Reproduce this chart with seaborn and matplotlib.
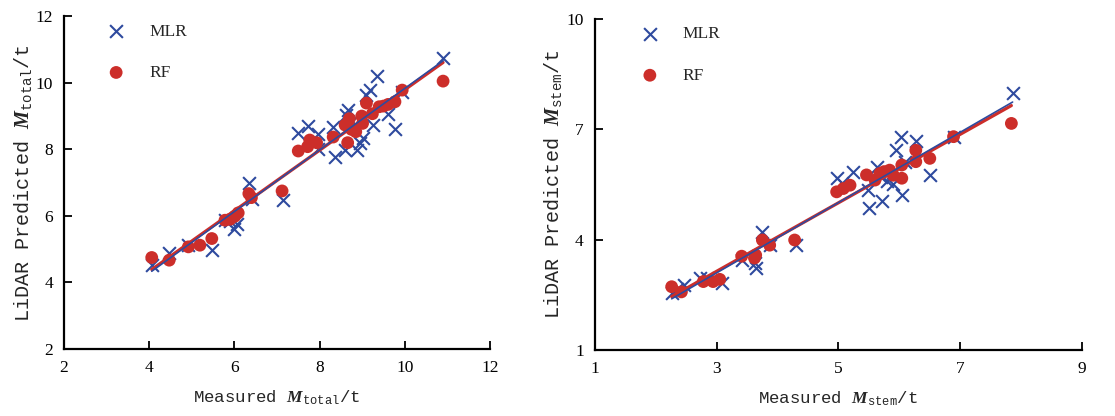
import matplotlib
matplotlib.use("Agg")
import matplotlib.pyplot as plt
import seaborn as sns
import numpy as np

sns.set_theme(style="white")
plt.rcParams['font.family'] = ['Liberation Serif', 'DejaVu Serif']
plt.rcParams['mathtext.fontset'] = 'custom'
plt.rcParams['mathtext.rm'] = 'Liberation Mono'
plt.rcParams['mathtext.it'] = 'Liberation Serif:italic:bold'
plt.rcParams['mathtext.bf'] = 'Liberation Serif:bold'

BLUE = "#2E4A9E"
RED = "#CC2E2A"

# ---- Left panel: M_total ----
total_mlr_x = [10.90, 9.36, 9.18, 9.08, 9.94, 9.61, 9.77, 9.26, 8.67, 8.62, 9.03, 8.95, 8.87,
               8.60, 8.36, 8.31, 7.72, 7.50, 7.97, 7.97, 6.34, 6.41, 7.13, 6.05, 6.00, 5.78,
               5.48, 4.92, 4.46, 4.06, 8.75, 5.90]
total_mlr_y = [10.75, 10.21, 9.78, 9.63, 9.73, 9.07, 8.62, 8.73, 9.18, 9.03, 8.33, 8.18, 7.98,
               7.98, 7.78, 8.66, 8.70, 8.50, 8.47, 8.02, 6.99, 6.52, 6.49, 5.77, 5.62, 5.87,
               4.99, 5.14, 4.90, 4.52, 8.85, 5.85]
total_rf_x = [10.90, 9.94, 9.77, 9.61, 9.40, 9.24, 9.10, 8.99, 9.01, 8.70, 8.60, 8.85, 8.66,
              8.32, 7.93, 7.77, 7.72, 7.50, 6.34, 7.12, 6.09, 6.01, 5.78, 5.47, 5.19, 4.92,
              4.47, 4.06, 8.75, 9.50, 6.40, 5.90]
total_rf_y = [10.05, 9.78, 9.43, 9.35, 9.28, 9.07, 9.39, 9.00, 8.78, 8.92, 8.73, 8.53, 8.20,
              8.37, 8.20, 8.28, 8.08, 7.95, 6.67, 6.75, 6.09, 5.99, 5.87, 5.32, 5.12, 5.07,
              4.67, 4.75, 8.60, 9.30, 6.55, 5.90]

# ---- Right panel: M_stem ----
stem_mlr_x = [7.86, 6.89, 6.02, 6.27, 5.94, 6.50, 6.04, 5.72, 5.50, 5.49, 5.24, 4.97, 5.05,
              5.63, 5.80, 5.90, 6.10, 5.70, 3.74, 3.87, 4.30, 3.41, 3.63, 3.65, 3.08, 2.84,
              2.72, 2.46, 2.26, 2.35]
stem_mlr_y = [7.98, 6.78, 6.78, 6.69, 6.43, 5.76, 5.21, 5.05, 4.85, 5.35, 5.85, 5.67, 5.53,
              5.98, 5.60, 5.50, 6.10, 5.70, 4.21, 3.85, 3.85, 3.45, 3.36, 3.22, 2.81, 2.95,
              2.95, 2.77, 2.54, 2.65]
stem_rf_x = [7.84, 6.89, 6.27, 6.50, 6.27, 6.04, 6.04, 5.84, 5.68, 5.46, 5.60, 5.19, 4.97,
             5.08, 5.90, 5.75, 3.75, 3.87, 4.28, 3.41, 3.64, 3.62, 3.05, 2.94, 2.78, 2.26,
             2.42]
stem_rf_y = [7.16, 6.80, 6.43, 6.21, 6.12, 6.03, 5.67, 5.89, 5.80, 5.76, 5.62, 5.48, 5.30,
             5.39, 5.75, 5.85, 3.99, 3.85, 3.99, 3.55, 3.58, 3.50, 2.92, 2.86, 2.86, 2.72,
             2.58]

total_xticks = [2, 4, 6, 8, 10, 12]
total_yticks = [2, 4, 6, 8, 10, 12]
stem_xticks = [1, 3, 5, 7, 9]
stem_yticks = [1, 4, 7, 10]

fig = plt.figure(figsize=(11.15, 4.16), dpi=100)
ax1 = fig.add_axes([0.0574, 0.161, 0.382, 0.800])
ax2 = fig.add_axes([0.5336, 0.1587, 0.4368, 0.7957])

def panel(ax, mx, my, rx, ry, xt, yt, sub, ylpad):
    sns.scatterplot(x=mx, y=my, ax=ax, marker='x', color=BLUE, s=85, linewidth=1.5,
                    label='MLR', zorder=3)
    sns.scatterplot(x=rx, y=ry, ax=ax, marker='o', color=RED, s=85, edgecolor='none',
                    label='RF', zorder=4)
    sns.regplot(x=np.array(rx), y=np.array(ry), ax=ax, scatter=False, ci=None, truncate=True,
                line_kws=dict(color=RED, lw=2.3, zorder=5))
    sns.regplot(x=np.array(mx), y=np.array(my), ax=ax, scatter=False, ci=None, truncate=True,
                line_kws=dict(color=BLUE, lw=1.2, zorder=6))
    ax.set_xlim(xt[0], xt[-1])
    ax.set_ylim(yt[0], yt[-1])
    ax.set_xticks(xt)
    ax.set_yticks(yt)
    ax.tick_params(direction='in', length=6, width=1.3, labelsize=12.5, colors='black',
                   left=True, bottom=True, pad=8)
    for s in ['top', 'right']:
        ax.spines[s].set_visible(False)
    for s in ['left', 'bottom']:
        ax.spines[s].set_linewidth(1.6)
        ax.spines[s].set_color('black')
    ax.set_xlabel(r"Measured $M_{\mathrm{%s}}$/t" % sub, family='Liberation Mono',
                  fontsize=12.5, labelpad=9)
    ax.set_ylabel(r"LiDAR Predicted $M_{\mathrm{%s}}$/t" % sub, family='Liberation Mono',
                  fontsize=14.5, labelpad=ylpad)
    leg = ax.legend(loc='upper left', bbox_to_anchor=(0.045, 1.025), frameon=False,
                    labelspacing=1.45, handletextpad=0.9, fontsize=12.5, markerscale=1.0)
    return leg

panel(ax1, total_mlr_x, total_mlr_y, total_rf_x, total_rf_y, total_xticks, total_yticks,
      'total', 1)
panel(ax2, stem_mlr_x, stem_mlr_y, stem_rf_x, stem_rf_y, stem_xticks, stem_yticks,
      'stem', 2)

fig.savefig("out.png", dpi=100)
